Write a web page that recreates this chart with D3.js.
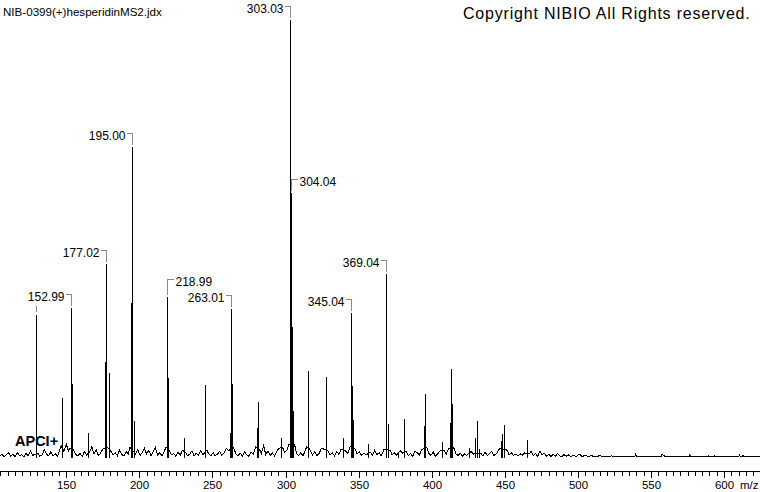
<!DOCTYPE html>
<html>
<head>
<meta charset="utf-8">
<script src="https://cdn.jsdelivr.net/npm/d3@7"></script>
<style>
  body { margin: 0; background: #fff; }
  svg { display: block; font-family: "Liberation Sans", Arial, sans-serif; }
</style>
</head>
<body>
<svg id="chart" width="760" height="492"></svg>
<script>
// ----- data (m/z, relative intensity %)
const peaks = [
    [129.1, 32.7], [147.3, 13.8], [152.99, 34.3], [153.8, 16.9], [164.7, 5.6],
    [176.4, 22.0], [177.02, 44.2], [179.5, 19.5],
    [194.4, 35.5], [195.00, 70.9], [196.6, 8.5],
    [218.99, 36.7], [219.8, 18.2], [230.8, 4.6], [245.1, 16.7],
    [261.8, 5.8], [263.01, 34.1], [263.6, 16.9],
    [280.7, 6.9], [281.4, 12.7], [296.9, 4.6],
    [303.03, 100], [304.04, 60.6], [304.6, 29.8], [305.3, 10.8],
    [315.2, 10.1], [315.6, 19.9], [327.5, 18.5], [327.9, 9.2], [339.5, 4.6],
    [345.04, 33.2], [345.7, 16.5], [346.4, 8.7], [356.6, 3.2],
    [368.4, 24.3], [369.04, 42.0], [370.3, 7.8], [377.2, 1.2], [381.3, 8.8],
    [394.9, 7.3], [395.6, 14.7], [407.3, 3.7],
    [412.3, 4.6], [412.7, 8.1], [413.4, 20.3], [413.9, 12.4],
    [425.7, 2.2], [429.6, 4.5], [431.2, 8.5], [432.1, 2.0],
    [447.2, 3.9], [447.9, 5.4], [449.7, 7.6], [465.4, 4.1]
];

const labelledPeaks = [129.1, 152.99, 177.02, 195.00, 218.99, 263.01, 303.03, 304.04, 345.04, 369.04];
const hiddenLabels = [129.1];   // only the leader stub is drawn
const rightLabels = [218.99, 304.04];

const baselineNoise = [
    [104.7, 0.4], [106, 0.9], [107.5, 0.3], [109, 0.7], [110.5, 1.2], [112, 0.4], [113.5, 0.8],
    [115, 0.3], [116.5, 1.3], [118, 0.5], [119.5, 0.8], [121, 0.3], [122.5, 1.0], [124, 0.5],
    [125.5, 1.6], [127, 0.6], [130.5, 1.1], [132, 0.4], [133.5, 0.7], [135, 1.9], [136.5, 0.9],
    [138, 0.5], [139.5, 1.4], [141, 0.5], [142.5, 1.0], [144, 0.4], [145.5, 1.8], [146.5, 2.8],
    [148.5, 1.5], [150, 3.2], [151.5, 1.6], [152.3, 2.2], [155, 1.9], [156.5, 0.8], [158, 0.5],
    [159.5, 1.0], [161, 0.4], [162.5, 1.5], [164, 0.7], [166, 1.3], [167.5, 2.6], [169, 0.9],
    [170.5, 1.9], [172, 0.6], [173.5, 1.1], [175, 2.0], [178.2, 2.4], [180.5, 1.6], [182, 0.7],
    [183.5, 1.2], [185, 0.5], [186.5, 1.8], [188, 0.8], [189.5, 0.5], [191, 1.5], [192.5, 0.9],
    [193.6, 2.4], [197.5, 0.9], [199, 1.9], [200.5, 0.6], [202, 1.2], [203.5, 2.2], [205, 0.9],
    [206.5, 1.8], [208, 0.5], [209.5, 1.4], [211, 2.4], [212.5, 0.7], [214, 1.2], [215.5, 0.5],
    [217, 1.5], [218.3, 2.5], [220.7, 1.6], [222, 0.7], [223.5, 1.0], [225, 0.4], [226.5, 1.3],
    [228, 0.6], [229.5, 1.8], [231.7, 1.2], [233, 0.5], [234.5, 0.9], [236, 1.6], [237.5, 0.5],
    [239, 1.1], [240.5, 0.6], [242, 1.7], [243.5, 0.7], [246.2, 1.8], [247.5, 0.9], [249, 0.5],
    [250.5, 1.2], [252, 0.5], [253.5, 0.9], [255, 1.5], [256.5, 0.6], [258, 1.2], [259.5, 2.2],
    [261, 1.7], [264.5, 2.4], [266, 1.0], [267.5, 0.5], [269, 1.1], [270.5, 0.5], [272, 1.4],
    [273.5, 0.7], [275, 0.4], [276.5, 1.3], [278, 0.9], [279.5, 2.5], [282.3, 1.9], [283.5, 1.0],
    [285, 2.8], [286.5, 0.8], [288, 1.6], [289.5, 0.6], [291, 1.2], [292.5, 0.5], [294, 1.5],
    [295.5, 2.2], [298, 2.4], [299.5, 1.3], [301, 1.8], [302.3, 3.0], [306.2, 3.1], [307.5, 1.1],
    [309, 0.6], [310.5, 1.2], [312, 0.4], [313.5, 1.8], [314.6, 2.6], [316.6, 2.0], [318.5, 0.7],
    [320, 1.4], [321.5, 0.6], [323, 1.0], [324.5, 2.2], [326.6, 2.0], [328.8, 1.8], [330.5, 0.7],
    [332, 1.2], [333.5, 0.5], [335, 1.5], [336.5, 0.8], [338, 2.0], [341, 1.6], [342.5, 1.0],
    [344.2, 2.6], [347.4, 2.2], [349, 0.9], [350.5, 1.5], [352, 0.6], [353.5, 1.1], [355, 0.7],
    [358, 1.3], [359.5, 0.6], [361, 1.8], [362.5, 0.8], [364, 1.2], [365.5, 0.5], [367.4, 2.0],
    [371.5, 1.8], [373, 0.7], [374.5, 1.2], [376, 0.6], [378.5, 1.7], [380, 1.1], [382.5, 1.5],
    [384, 0.6], [385.5, 1.0], [387, 0.4], [388.5, 1.5], [390, 1.3], [391.5, 0.6], [393, 1.9],
    [396.5, 2.5], [398, 1.1], [399.5, 0.6], [401, 1.4], [402.5, 0.4], [404, 0.9], [405.5, 1.6],
    [408.5, 1.8], [410, 0.9], [411.5, 2.2], [415, 2.4], [416.5, 1.0], [418, 0.6], [419.5, 1.1],
    [421, 0.4], [422.5, 0.9], [424, 0.6], [427, 1.5], [428.5, 0.9], [433.5, 1.1], [435, 0.5],
    [436.5, 1.4], [438, 0.6], [439.5, 1.0], [441, 1.5], [442.5, 0.6], [444, 0.9], [445.5, 1.6],
    [446.5, 2.2], [451.5, 1.8], [453, 0.7], [454.5, 1.2], [456, 0.6], [457.5, 0.9], [459, 0.4],
    [460.5, 1.0], [462, 0.6], [463.5, 1.2], [466.5, 0.9], [468, 1.5], [469.5, 0.6], [471, 1.0],
    [472.5, 0.4], [474, 1.6], [475.5, 0.7], [477, 1.1], [478.5, 0.4], [480, 0.9], [481.5, 0.3],
    [483, 0.8], [484.5, 0.4], [486, 1.0], [487.5, 0.5], [489, 0.3], [490.5, 0.8], [492, 0.4],
    [493.5, 0.7], [495, 0.3], [497, 0.6], [499, 0.3], [501, 0.9], [503, 0.3], [505, 0.7],
    [507, 0.3], [509, 0.6], [511, 0.3], [513, 0.3], [515, 0.6], [517, 0.3], [521, 0.3],
    [523, 0.5], [525, 0.3], [539, 0.3], [539.5, 0.9], [540, 0.3], [557, 0.3], [557.5, 0.8],
    [559, 0.5], [560, 0.3], [576, 0.3], [576.5, 0.7], [577, 0.3], [589, 0.3], [589.5, 0.6],
    [590, 0.3], [593, 0.3], [593.5, 0.5], [594, 0.3], [610, 0.3], [610.5, 0.7], [611, 0.3],
    [613, 0.5], [614, 0.3], [624.6, 0.3]
];

const majorTicks = [150, 200, 250, 300, 350, 400, 450, 500, 550, 600];
const titleText = 'NIB-0399(+)hesperidinMS2.jdx';
const copyrightText = 'Copyright NIBIO All Rights reserved.';
const ionText = 'APCI+';

// ----- scales
const width = 760, height = 492;
const svg = d3.select('#chart');

const x = d3.scaleLinear().domain([104.72, 624.55]).range([0, width]);
const y = d3.scaleLinear().domain([0, 100]).range([458, 20]);
const px = m => Math.round(x(m)) + 0.5;

// ----- noise trace
const noiseLine = d3.line()
    .x(d => x(d[0]))
    .y(d => y(d[1]));

svg.append('path')
    .datum(baselineNoise)
    .attr('d', noiseLine)
    .attr('fill', 'none')
    .attr('stroke', '#000')
    .attr('stroke-width', 1)
    .attr('shape-rendering', 'crispEdges');

// ----- peak sticks
svg.append('g')
    .selectAll('line')
    .data(peaks)
    .join('line')
    .attr('x1', d => px(d[0]))
    .attr('x2', d => px(d[0]))
    .attr('y1', y(0))
    .attr('y2', d => Math.round(y(d[1])))
    .attr('stroke', '#000')
    .attr('stroke-width', 1)
    .attr('shape-rendering', 'crispEdges');

// ----- axis
const axisY = 471;
const minorTicks = d3.range(105, 625, 5).filter(v => !majorTicks.includes(v));

svg.append('line')
    .attr('x1', 0).attr('x2', width)
    .attr('y1', axisY + 0.5).attr('y2', axisY + 0.5)
    .attr('stroke', '#000');

svg.append('g')
    .selectAll('line')
    .data(minorTicks)
    .join('line')
    .attr('x1', d => px(d)).attr('x2', d => px(d))
    .attr('y1', axisY).attr('y2', axisY + 5)
    .attr('stroke', '#000')
    .attr('shape-rendering', 'crispEdges');

const major = svg.append('g')
    .selectAll('g')
    .data(majorTicks)
    .join('g')
    .attr('transform', d => `translate(${px(d)},${axisY})`);

major.append('line')
    .attr('y1', 0).attr('y2', 7)
    .attr('stroke', '#000')
    .attr('shape-rendering', 'crispEdges');

major.append('text')
    .attr('y', 18)
    .attr('text-anchor', 'middle')
    .attr('font-size', '11.5px')
    .attr('fill', '#000')
    .text(d => d);

svg.append('text')
    .attr('x', 740).attr('y', 489)
    .attr('font-size', '11.5px')
    .text('m/z');

// ----- peak labels
const peakTop = m => Math.round(y(peaks.find(p => p[0] === m)[1]));

labelledPeaks.forEach(m => {
    const xp = px(m);
    const top = peakTop(m);
    const right = rightLabels.includes(m);
    const lift = m === 218.99 ? 4 : 0;
    const by = top - 13.5 - lift;

    if (hiddenLabels.includes(m)) {
        svg.append('path')
            .attr('d', `M${xp},${top - 9}V${top - 3}`)
            .attr('stroke', '#888').attr('fill', 'none')
            .attr('shape-rendering', 'crispEdges');
        return;
    }

    svg.append('path')
        .attr('d', right
            ? `M${xp + 6},${by}H${xp}V${top - 2}`
            : `M${xp - 6},${by}H${xp}V${top - 2}`)
        .attr('stroke', '#888')
        .attr('fill', 'none')
        .attr('shape-rendering', 'crispEdges');

    svg.append('text')
        .attr('x', right ? xp + 8 : xp - 7)
        .attr('y', top - 7 - lift)
        .attr('text-anchor', right ? 'start' : 'end')
        .attr('font-size', '12px')
        .attr('fill', '#000')
        .text(m.toFixed(2));
});

// ----- header texts
svg.append('text')
    .attr('x', 3).attr('y', 16)
    .attr('font-size', '11.6px')
    .text(titleText);

svg.append('text')
    .attr('x', 463).attr('y', 19)
    .attr('font-size', '16px')
    .attr('letter-spacing', '0.8px')
    .text(copyrightText);

svg.append('text')
    .attr('x', 15).attr('y', 446)
    .attr('font-size', '14.5px')
    .attr('font-weight', 'bold')
    .text(ionText);
</script>
</body>
</html>
